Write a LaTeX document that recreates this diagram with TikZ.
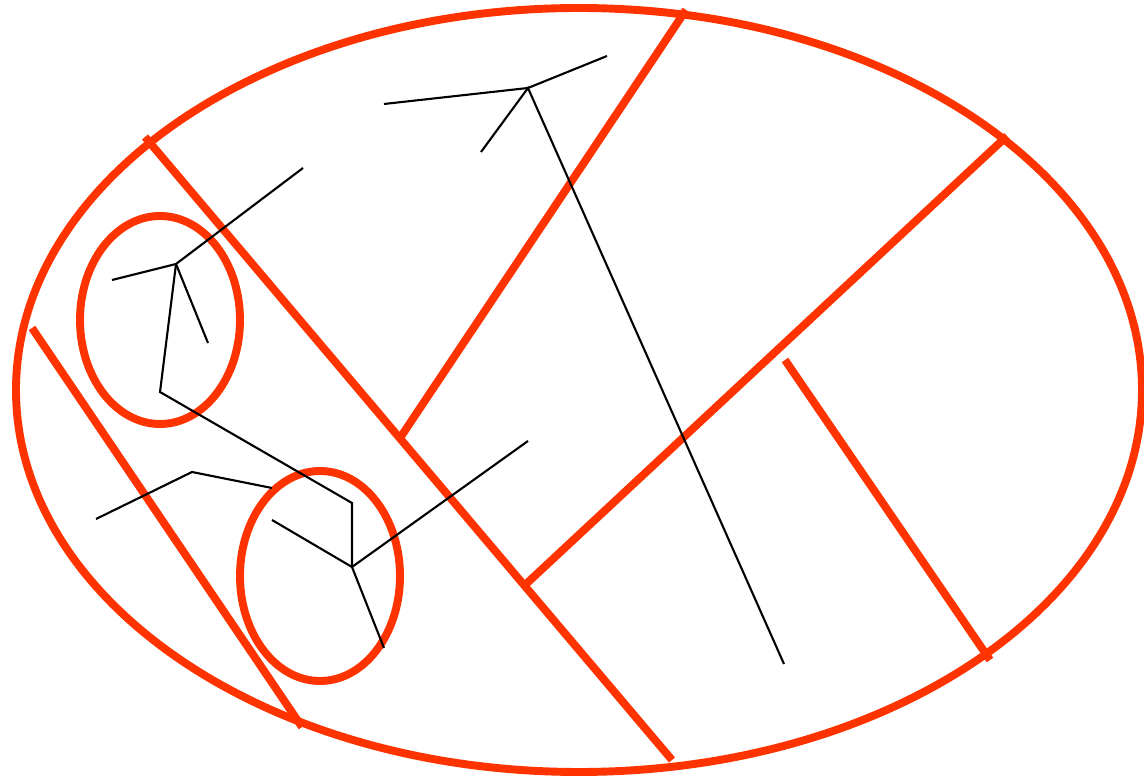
\documentclass[tikz,border=0pt]{standalone}
\definecolor{redline}{RGB}{255,51,0}
\tikzset{
  region/.style={draw=redline, line width=4.5pt},
  cutline/.style={draw=redline, line width=4.5pt},
  branch/.style={draw=black, line width=1.2pt, line join=miter}
}
\begin{document}
\begin{tikzpicture}[x=0.02cm,y=-0.02cm]
\useasboundingbox (0,0) rectangle (1144,776);
% regions
\draw[region] (579,390) ellipse [x radius=563, y radius=382];
\draw[region] (160,320) ellipse [x radius=80, y radius=104];
\draw[region] (320,576) ellipse [x radius=80, y radius=105];
% red cut lines
\coordinate (r1a) at (145,137); \coordinate (r1b) at (672,760);
\coordinate (r2a) at (686,10);  \coordinate (r2b) at (400,438);
\coordinate (r3a) at (1007,136); \coordinate (r3b) at (525,585);
\coordinate (r4a) at (785,360); \coordinate (r4b) at (990,660);
\coordinate (r5a) at (32,328);  \coordinate (r5b) at (302,727);
\draw[cutline] (r1a) -- (r1b);
\draw[cutline] (r2a) -- (r2b);
\draw[cutline] (r3a) -- (r3b);
\draw[cutline] (r4a) -- (r4b);
\draw[cutline] (r5a) -- (r5b);
% top tree
\coordinate (t) at (528,88);
\coordinate (t1) at (384,104);
\coordinate (t2) at (607,56);
\coordinate (t3) at (481,152);
\coordinate (t4) at (784,664);
\draw[branch] (t1) -- (t) -- (t2);
\draw[branch] (t3) -- (t) -- (t4);
% left tree
\coordinate (a) at (176,264);
\coordinate (a1) at (112,280);
\coordinate (a2) at (303,168);
\coordinate (a3) at (208,343);
\coordinate (a4) at (160,392);
\coordinate (b0) at (352,503);
\coordinate (b) at (352,567);
\coordinate (b1) at (272,520);
\coordinate (b2) at (528,441);
\coordinate (b3) at (384,648);
\draw[branch] (a1) -- (a) -- (a2);
\draw[branch] (a) -- (a3);
\draw[branch] (a) -- (a4) -- (b0) -- (b);
\draw[branch] (b1) -- (b) -- (b2);
\draw[branch] (b) -- (b3);
% side path
\coordinate (c1) at (96,519);
\coordinate (c2) at (192,472);
\coordinate (c3) at (272,488);
\draw[branch] (c1) -- (c2) -- (c3);
\end{tikzpicture}
\end{document}
